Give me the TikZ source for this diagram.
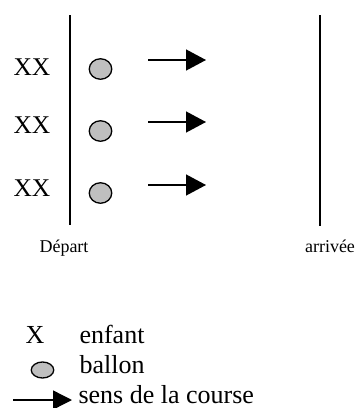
\documentclass[tikz,border=0pt]{standalone}
\usepackage{fontspec}
\setmainfont{Liberation Serif}
\usetikzlibrary{arrows.meta,shapes.geometric}

\begin{document}
\begin{tikzpicture}[x=1pt,y=-1pt]
            \tikzset{
                kids/.style={font=\fontsize{25.5}{25.5}\selectfont, anchor=base},
                ball/.style={ellipse, draw, line width=1.3pt, fill=gray!50, minimum width=22.5pt, minimum height=20.5pt, inner sep=0pt},
                mark line/.style={line width=1.6pt},
                edge/.style={->, line width=1.4pt, > = {Triangle[length=20pt,width=21pt]}},
                caption/.style={font=\fontsize{18}{18}\selectfont, anchor=base},
                legend/.style={font=\fontsize{26}{26}\selectfont, anchor=base west}
            }
            \useasboundingbox (0,0) rectangle (363,408);

            % start and finish lines
            \coordinate (start top) at (70,15);
            \coordinate (start bottom) at (70,225);
            \coordinate (finish top) at (320,15);
            \coordinate (finish bottom) at (320,226);
            \draw[mark line] (start top) -- (start bottom);
            \draw[mark line] (finish top) -- (finish bottom);
            \node[caption] (depart) at (64,252) {Départ};
            \node[caption] (arrivee) at (330,252) {arrivée};

            % children and balls
            \node[kids] (kids1) at (32,75) {XX};
            \node[kids] (kids2) at (32,133) {XX};
            \node[kids] (kids3) at (32,196) {XX};
            \node[ball] (ball1) at (100.5,69) {};
            \node[ball] (ball2) at (100.5,131) {};
            \node[ball] (ball3) at (100.5,193) {};

            %edges
            \coordinate (run1 a) at (148,60);
            \coordinate (run1 b) at (206,60);
            \coordinate (run2 a) at (148,122);
            \coordinate (run2 b) at (206,122);
            \coordinate (run3 a) at (148,185);
            \coordinate (run3 b) at (206,185);
            \draw[edge] (run1 a) -- (run1 b);
            \draw[edge] (run2 a) -- (run2 b);
            \draw[edge] (run3 a) -- (run3 b);

            % legend
            \node[legend, anchor=base] (key child) at (35,343) {X};
            \node[legend] (child text) at (76,343) {enfant};
            \node[ball, minimum height=16pt] (key ball) at (42.5,370) {};
            \node[legend] (ball text) at (76,373) {ballon};
            \coordinate (key run a) at (13,400);
            \coordinate (key run b) at (72,400);
            \draw[edge, > = {Triangle[length=19pt,width=19pt]}] (key run a) -- (key run b);
            \node[legend] (run text) at (75,403) {sens de la course};
\end{tikzpicture}
\end{document}
